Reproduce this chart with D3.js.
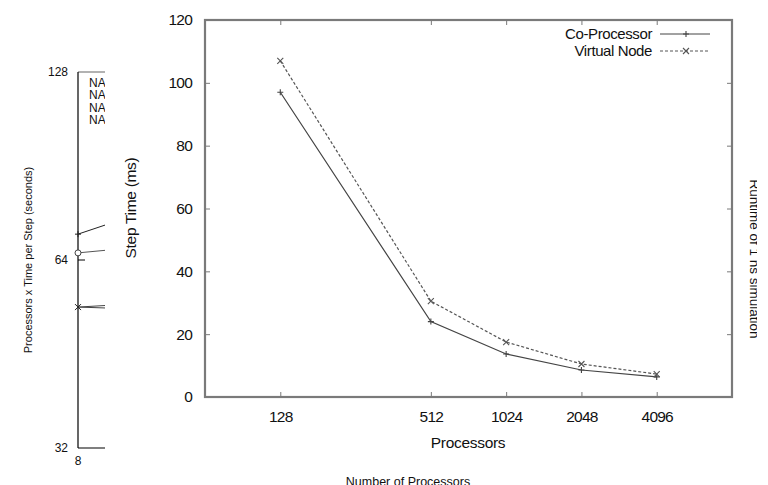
<!DOCTYPE html>
<html><head><meta charset="utf-8">
<script src="https://cdn.jsdelivr.net/npm/d3@7"></script>
<style>
body{margin:0;background:#fff;}
svg{display:block;}
text{font-family:"Liberation Sans",Arial,Helvetica,sans-serif;fill:#111;}
</style></head>
<body>
<svg id="c" width="768" height="485"></svg>
<script>
// ---- main chart data ----
const processors = [128, 512, 1024, 2048, 4096];
const coProcessor = [97, 24, 13.7, 8.6, 6.4];
const virtualNode = [107, 30.5, 17.5, 10.5, 7.3];
const yTicks = [0, 20, 40, 60, 80, 100, 120];
const seriesNames = ["Co-Processor", "Virtual Node"];

// ---- background (partially hidden) chart data ----
const bgYTicks = [32, 64, 128];
const bgXTicks = [8];
const bgProcs = [8, 16];
const bgPlus = [70.4, 77.5];
const bgCircle = [65.7, 67.5];
const bgCross1 = [53.8, 54.7];
const bgCross2 = [53.8, 53.3];
const bgNA = ["NA", "NA", "NA", "NA"];

const svg = d3.select("#c");

// ================= background chart =================
const bg = svg.append("g");
const bgx = d3.scaleLog().base(2).domain([8, 2048]).range([78, 700]);
const bgy = d3.scaleLog().base(2).domain([32, 128]).range([448, 72]);

const defs = svg.append("defs");
defs.append("clipPath").attr("id", "bgclip")
  .append("rect").attr("x", 0).attr("y", 0).attr("width", 105).attr("height", 485);
defs.append("clipPath").attr("id", "rclip")
  .append("rect").attr("x", 748).attr("y", 0).attr("width", 9).attr("height", 485);

const bgc = bg.append("g").attr("clip-path", "url(#bgclip)");
// frame
bgc.append("line").attr("x1", bgx(8)).attr("x2", 120).attr("y1", bgy(128)).attr("y2", bgy(128))
  .attr("stroke", "#666").attr("stroke-width", 1.2);
bgc.append("line").attr("x1", bgx(8)).attr("x2", 120).attr("y1", bgy(32)).attr("y2", bgy(32))
  .attr("stroke", "#000").attr("stroke-width", 1.2);
bgc.append("line").attr("x1", bgx(8)).attr("x2", bgx(8)).attr("y1", bgy(128)).attr("y2", bgy(32))
  .attr("stroke", "#000").attr("stroke-width", 1.2);
bgc.append("line").attr("x1", bgx(8)).attr("x2", bgx(8) + 7).attr("y1", bgy(64)).attr("y2", bgy(64))
  .attr("stroke", "#000").attr("stroke-width", 1);

bgYTicks.forEach(t => {
  bg.append("text").attr("x", 68).attr("y", bgy(t) + 4).attr("text-anchor", "end")
    .attr("font-size", 12).text(t);
});
bgXTicks.forEach(t => {
  bg.append("text").attr("x", bgx(t)).attr("y", 465).attr("text-anchor", "middle")
    .attr("font-size", 12).text(t);
});
bg.append("text").attr("transform", `translate(32,260) rotate(-90)`).attr("text-anchor", "middle")
  .attr("font-size", 11).text("Processors x Time per Step (seconds)");
bg.append("text").attr("x", 408).attr("y", 486).attr("text-anchor", "middle")
  .attr("font-size", 12.5).text("Number of Processors");

bgNA.forEach((t, i) => {
  bgc.append("text").attr("x", 89).attr("y", 87 + i * 12.3).attr("font-size", 12).text(t);
});

const bgLine = d3.line().x((d, i) => bgx(bgProcs[i])).y(d => bgy(d));
[[bgPlus, "#222"], [bgCircle, "#555"], [bgCross1, "#444"], [bgCross2, "#444"]].forEach(([s, c]) => {
  bgc.append("path").attr("d", bgLine(s)).attr("fill", "none").attr("stroke", c).attr("stroke-width", 1);
});
// markers at x = 8
{
  const x0 = bgx(8);
  const py = bgy(bgPlus[0]);
  bgc.append("path").attr("d", `M${x0-3},${py}H${x0+3}M${x0},${py-3}V${py+3}`).attr("stroke", "#222").attr("fill", "none");
  bgc.append("circle").attr("cx", x0).attr("cy", bgy(bgCircle[0])).attr("r", 3)
    .attr("fill", "#fff").attr("stroke", "#444");
  const cy = bgy(bgCross1[0]);
  bgc.append("path").attr("d", `M${x0-3},${cy-3}L${x0+3},${cy+3}M${x0-3},${cy+3}L${x0+3},${cy-3}`)
    .attr("stroke", "#222").attr("fill", "none");
}
// right-side rotated label from the background chart (mostly hidden)
bg.append("g").attr("clip-path", "url(#rclip)")
  .append("text").attr("transform", "translate(750,259) rotate(90)").attr("text-anchor", "middle")
  .attr("font-size", 13.5).attr("fill", "#444").text("Runtime of 1 ns simulation");

// ================= main chart =================
const x = d3.scaleLog().base(2).domain([64, 8192]).range([205, 732]);
const y = d3.scaleLinear().domain([0, 120]).range([397, 20]);
const main = svg.append("g");
const frame = "#7a7a7a";

// frame
main.append("rect").attr("x", x.range()[0]).attr("y", y(120))
  .attr("width", x.range()[1] - x.range()[0]).attr("height", y(0) - y(120))
  .attr("fill", "none").attr("stroke", frame).attr("stroke-width", 2.2);

// y axis
const yAxis = d3.axisLeft(y).tickValues(yTicks).tickSize(-5).tickPadding(13);
const gy = main.append("g").attr("transform", `translate(${x.range()[0]},0)`).call(yAxis);
gy.select(".domain").remove();
gy.selectAll(".tick line").attr("stroke", frame);
gy.selectAll(".tick text").attr("font-size", 15.5).attr("fill", "#111")
  .attr("font-family", "Liberation Sans,Arial,sans-serif").attr("letter-spacing", -0.8);
// right mirror ticks
const gyr = main.append("g").attr("transform", `translate(${x.range()[1]},0)`)
  .call(d3.axisRight(y).tickValues(yTicks.slice(1, -1)).tickSize(-5).tickFormat(""));
gyr.select(".domain").remove();
gyr.selectAll(".tick line").attr("stroke", frame);

// x axis
const xAxis = d3.axisBottom(x).tickValues(processors).tickFormat(d3.format("d")).tickSize(-5).tickPadding(14);
const gx = main.append("g").attr("transform", `translate(0,${y(0)})`).call(xAxis);
gx.select(".domain").remove();
gx.selectAll(".tick line").attr("stroke", frame);
gx.selectAll(".tick text").attr("font-size", 15.5).attr("fill", "#111")
  .attr("font-family", "Liberation Sans,Arial,sans-serif").attr("letter-spacing", -0.8);
// top mirror ticks
const gxt = main.append("g").attr("transform", `translate(0,${y(120)})`)
  .call(d3.axisTop(x).tickValues(processors).tickSize(-5).tickFormat(""));
gxt.select(".domain").remove();
gxt.selectAll(".tick line").attr("stroke", frame);

// axis labels
main.append("text").attr("x", 468).attr("y", 448).attr("text-anchor", "middle")
  .attr("font-size", 15.5).attr("letter-spacing", -0.3).text("Processors");
main.append("text").attr("transform", "translate(136,208) rotate(-90)").attr("text-anchor", "middle")
  .attr("font-size", 15.5).attr("letter-spacing", -0.3).text("Step Time (ms)");

// series
const line = d3.line().x((d, i) => x(processors[i])).y(d => y(d));
const styles = [
  {data: coProcessor, dash: null, marker: "plus", color: "#444"},
  {data: virtualNode, dash: "3,2", marker: "cross", color: "#555"}
];
function marker(g, type, cx, cy, color) {
  const s = 3;
  const d = type === "plus"
    ? `M${cx-s},${cy}H${cx+s}M${cx},${cy-s}V${cy+s}`
    : `M${cx-s},${cy-s}L${cx+s},${cy+s}M${cx-s},${cy+s}L${cx+s},${cy-s}`;
  g.append("path").attr("d", d).attr("stroke", color).attr("stroke-width", 1.1).attr("fill", "none");
}
styles.forEach(st => {
  main.append("path").attr("d", line(st.data)).attr("fill", "none")
    .attr("stroke", st.color).attr("stroke-width", 1.2).attr("stroke-dasharray", st.dash);
  st.data.forEach((v, i) => marker(main, st.marker, x(processors[i]), y(v), st.color));
});

// legend
const legY = [34, 51];
styles.forEach((st, i) => {
  main.append("text").attr("x", 652).attr("y", legY[i] + 5).attr("text-anchor", "end")
    .attr("font-size", 15).attr("letter-spacing", -0.4).text(seriesNames[i]);
  main.append("line").attr("x1", 660).attr("x2", 710).attr("y1", legY[i]).attr("y2", legY[i])
    .attr("stroke", st.color).attr("stroke-width", 1).attr("stroke-dasharray", st.dash);
  marker(main, st.marker, 686, legY[i], st.color);
});
</script>
</body></html>
